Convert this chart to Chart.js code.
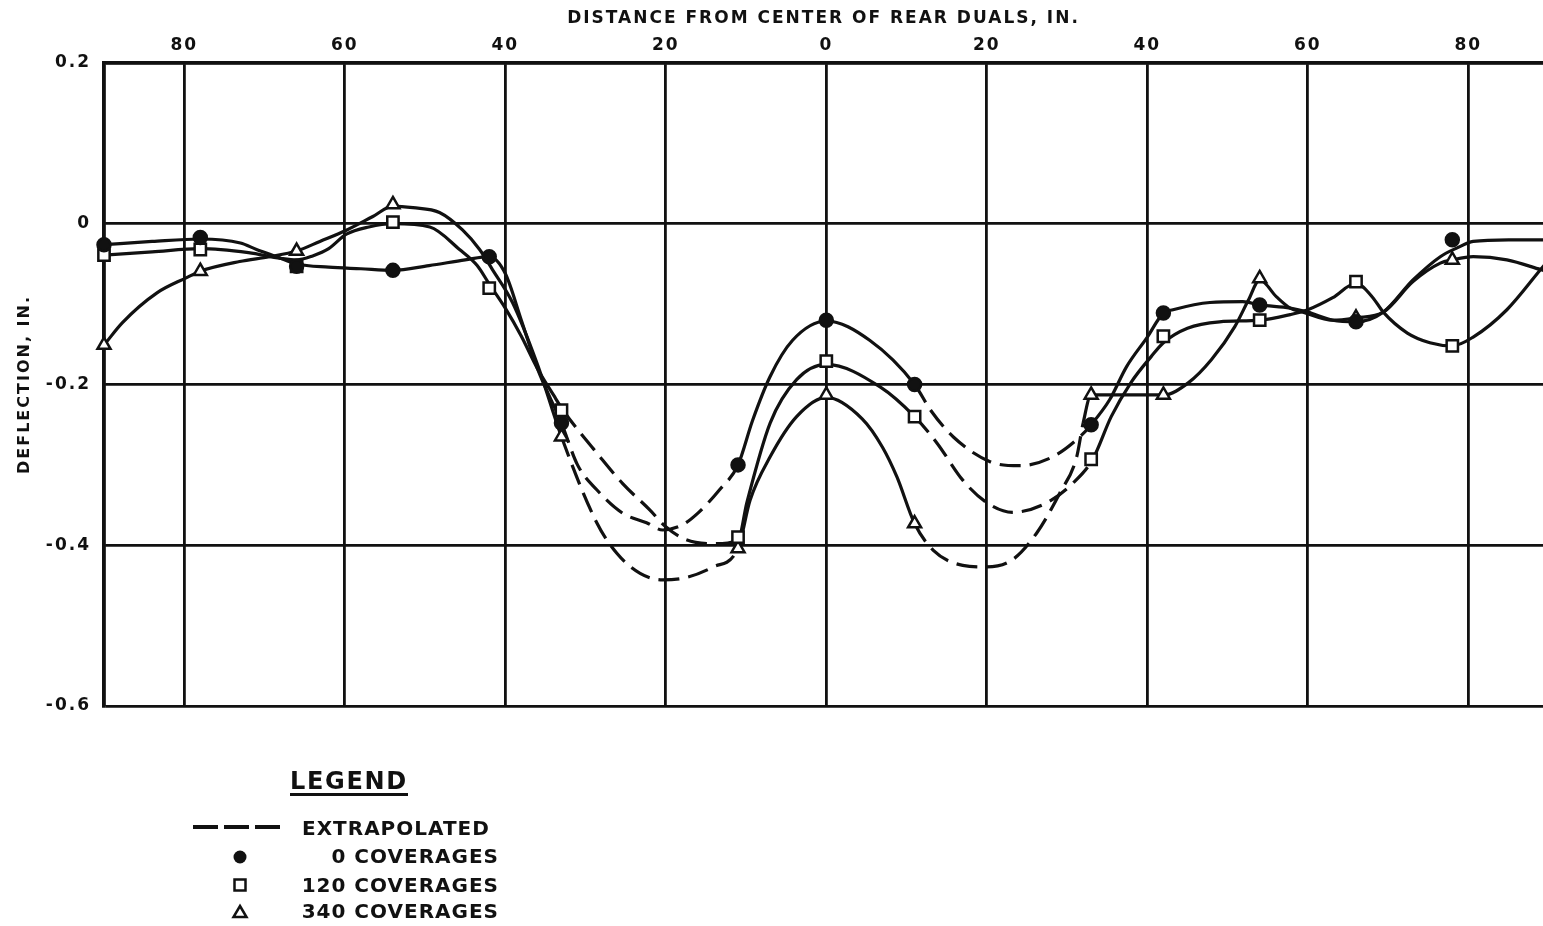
<!DOCTYPE html>
<html>
<head>
<meta charset="utf-8">
<script src="https://cdn.jsdelivr.net/npm/chart.js@4"></script>
<style>
  html, body { margin: 0; padding: 0; background: #fff; }
  #wrap { position: relative; width: 1543px; height: 926px; overflow: hidden; }
  #deflectionChart { position: absolute; left: 0; top: 0; }
  .lg { position: absolute; font-family: 'DejaVu Sans', sans-serif; font-weight: bold; color: #111; white-space: pre; }
  .lg-title { font-size: 24px; line-height: 24px; letter-spacing: 1.7px; border-bottom: 3px solid #111; }
  .lg-row { font-size: 20px; line-height: 20px; letter-spacing: 1px; }
  .lg-right { width: 300px; text-align: right; }
</style>
</head>
<body>
<div id="wrap">
  <canvas id="deflectionChart" width="1543" height="926"></canvas>

  <!-- legend, laid out the way the drawing has it -->
  <div class="lg lg-title" style="left:290px; top:769px;">LEGEND</div>
  <svg class="lg" style="left:180px; top:815px;" width="120" height="110">
    <line x1="13" y1="12" x2="100" y2="12" stroke="#111" stroke-width="4" stroke-dasharray="25 6"/>
    <circle cx="60" cy="42" r="6.5" fill="#111"/>
    <rect x="54.5" y="64.5" width="11" height="11" fill="#fff" stroke="#111" stroke-width="2.5"/>
    <polygon points="60,91 66.5,102 53.5,102" fill="#fff" stroke="#111" stroke-width="2.5"/>
  </svg>
  <div class="lg lg-row" style="left:302px; top:818px;">EXTRAPOLATED</div>
  <div class="lg lg-row lg-right" style="left:199px; top:846px;">0 COVERAGES</div>
  <div class="lg lg-row lg-right" style="left:199px; top:875px;">120 COVERAGES</div>
  <div class="lg lg-row lg-right" style="left:199px; top:901px;">340 COVERAGES</div>
</div>

<script>
// measured points (distance from centre of rear duals, in.)
const markerX = [-90, -78, -66, -54, -42, -33, -11, 0, 11, 33, 42, 54, 66, 78];
const cov0   = [-0.026, -0.017, -0.053, -0.058, -0.041, -0.248, -0.300, -0.120, -0.200, -0.250, -0.111, -0.101, -0.122, -0.020];
const cov120 = [-0.039, -0.032, -0.053, 0.002, -0.080, -0.232, -0.390, -0.171, -0.240, -0.293, -0.140, -0.120, -0.072, -0.152];
const cov340 = [-0.151, -0.059, -0.034, 0.024, null, -0.265, -0.404, -0.213, -0.373, -0.213, -0.213, -0.068, -0.117, -0.045];

// faired curves
const curve0X = [-90, -84, -78, -73, -71, -68.5, -66, -62, -58, -54, -49.5, -45, -42, -40, -38, -36, -33, -31, -28.6, -25.4, -22.4, -20.4, -18, -16, -13.3, -11, -9.2, -7, -4.2, 0, 5.4, 11, 13, 15.8, 20.4, 24.1, 28.2, 31.6, 33, 35.3, 37.4, 40, 42, 43.2, 47.8, 51.9, 54, 57.8, 60, 63.1, 66, 69.4, 73.1, 76.5, 78.6, 80.6, 85, 90];
const curve0Y = [-0.026, -0.022, -0.019, -0.024, -0.032, -0.041, -0.050, -0.054, -0.056, -0.058, -0.052, -0.045, -0.041, -0.062, -0.120, -0.180, -0.248, -0.300, -0.331, -0.360, -0.372, -0.381, -0.375, -0.360, -0.331, -0.300, -0.245, -0.190, -0.145, -0.121, -0.145, -0.200, -0.232, -0.265, -0.296, -0.301, -0.290, -0.265, -0.250, -0.219, -0.178, -0.141, -0.111, -0.107, -0.098, -0.097, -0.101, -0.105, -0.110, -0.120, -0.122, -0.110, -0.070, -0.041, -0.030, -0.022, -0.020, -0.020];

const curve120X = [-90, -84, -78, -72, -68, -66, -64, -62, -59.8, -57, -54, -49.4, -45.7, -43.5, -42, -40, -38, -36, -34, -32.8, -28.2, -25.4, -22, -20, -17.5, -14, -11, -9.9, -7, -3.7, 0, 6.7, 11, 13.8, 17, 20, 23.2, 27.5, 30.7, 33.2, 35.5, 38, 40.5, 42, 45, 49, 54, 57.8, 60, 63.1, 66, 68.1, 69.4, 72.4, 75.2, 78, 80.6, 84.8, 89, 90];
const curve120Y = [-0.039, -0.035, -0.031, -0.036, -0.043, -0.045, -0.040, -0.031, -0.013, -0.004, 0.000, -0.004, -0.032, -0.052, -0.075, -0.105, -0.140, -0.180, -0.213, -0.232, -0.290, -0.323, -0.356, -0.377, -0.393, -0.398, -0.394, -0.347, -0.248, -0.194, -0.175, -0.203, -0.240, -0.273, -0.319, -0.347, -0.359, -0.347, -0.323, -0.293, -0.240, -0.197, -0.165, -0.148, -0.130, -0.122, -0.120, -0.113, -0.107, -0.092, -0.074, -0.092, -0.110, -0.136, -0.148, -0.152, -0.141, -0.107, -0.057, -0.045];

const curve340X = [-90, -87.7, -83.4, -79.7, -78, -73.1, -69.4, -66, -63.1, -59.8, -56.5, -54, -51.5, -48.2, -45.3, -43.2, -41.6, -39.1, -36, -33, -28.6, -26.1, -23.2, -20.4, -17.4, -14.1, -11, -9.5, -7, -3.7, 0, 4.5, 7, 8.8, 11, 13.3, 17, 20, 23.2, 26.2, 29.1, 31.2, 32, 33, 42, 45.1, 48, 50.9, 52.6, 54, 56.1, 57.8, 59.4, 63.1, 66, 69.4, 73.1, 76.5, 78, 80.6, 84.8, 89, 90];
const curve340Y = [-0.151, -0.123, -0.086, -0.067, -0.059, -0.047, -0.041, -0.034, -0.022, -0.008, 0.009, 0.022, 0.020, 0.014, -0.008, -0.032, -0.057, -0.098, -0.175, -0.265, -0.372, -0.410, -0.435, -0.443, -0.440, -0.427, -0.404, -0.344, -0.290, -0.240, -0.216, -0.243, -0.278, -0.315, -0.373, -0.406, -0.425, -0.427, -0.418, -0.385, -0.335, -0.290, -0.248, -0.213, -0.213, -0.198, -0.169, -0.128, -0.095, -0.070, -0.091, -0.105, -0.110, -0.120, -0.117, -0.110, -0.072, -0.049, -0.045, -0.041, -0.045, -0.057, -0.060];

// stretches drawn dashed (extrapolated)
const dashed0 = [[-33, -11], [11, 33]];
const dashed120 = [[-33, -11], [11, 33.2]];
const dashed340 = [[-33, -11], [11, 32]];

// axis ticks
const xTickValues = [-90, -80, -60, -40, -20, 0, 20, 40, 60, 80];
const xTickLabels = ['', '80', '60', '40', '20', '0', '20', '40', '60', '80'];
const yTickValues = [0.2, 0, -0.2, -0.4, -0.6];
const yTickLabels = ['0.2', '0', '-0.2', '-0.4', '-0.6'];

const ink = '#111';
const tickFont = { family: 'DejaVu Sans', size: 17, weight: 'bold' };
const titleFont = { family: 'DejaVu Sans', size: 17, weight: 'bold' };

const toPoints = (xs, ys) => xs.map((x, i) => ({ x: x, y: ys[i] }));

function dashFor(ranges) {
    return ctx => {
        const a = ctx.p0.parsed.x, b = ctx.p1.parsed.x;
        return ranges.some(r => a >= r[0] - 0.1 && b <= r[1] + 0.1) ? [21, 9] : undefined;
    };
}

function curve(xs, ys, ranges) {
    return {
        data: toPoints(xs, ys),
        borderColor: ink,
        borderWidth: 3.2,
        pointRadius: 0,
        cubicInterpolationMode: 'monotone',
        fill: false,
        segment: { borderDash: dashFor(ranges) }
    };
}

function markers(ys, style, radius, fill) {
    return {
        data: toPoints(markerX, ys),
        showLine: false,
        pointStyle: style,
        pointRadius: radius,
        pointBackgroundColor: fill,
        pointBorderColor: ink,
        pointBorderWidth: 2.5,
        clip: false
    };
}

// canvas text in the drawing is spaced out a little
const letterSpacing = {
    id: 'letterSpacing',
    beforeUpdate(chart) { chart.ctx.letterSpacing = '2px'; },
    beforeDraw(chart) { chart.ctx.letterSpacing = '2px'; }
};

// no label padding: the plot runs off the right edge of the sheet
function noPad(s) {
    s.paddingLeft = 0;
    s.paddingRight = 0;
    s.paddingTop = 0;
    s.paddingBottom = 0;
}

new Chart(document.getElementById('deflectionChart').getContext('2d'), {
    type: 'line',
    data: {
        datasets: [
            markers(cov0, 'circle', 6.5, ink),
            markers(cov120, 'rect', 8, '#fff'),
            markers(cov340, 'triangle', 7.5, '#fff'),
            curve(curve0X, curve0Y, dashed0),
            curve(curve120X, curve120Y, dashed120),
            curve(curve340X, curve340Y, dashed340)
        ]
    },
    options: {
        responsive: false,
        animation: false,
        devicePixelRatio: 1,
        layout: { autoPadding: false, padding: { left: 0, top: 0, right: 0, bottom: 220 } },
        scales: {
            x: {
                type: 'linear',
                position: 'top',
                min: -90,
                max: 89.3,
                afterBuildTicks: s => { s.ticks = xTickValues.map(v => ({ value: v })); },
                afterFit: s => { s.height = 63; noPad(s); },
                grid: { color: ink, lineWidth: 2.8, drawTicks: false },
                border: { color: ink, width: 3.2 },
                ticks: {
                    autoSkip: false,
                    maxRotation: 0,
                    padding: 7,
                    color: ink,
                    font: tickFont,
                    callback: (v, i) => xTickLabels[i]
                },
                title: {
                    display: true,
                    text: 'DISTANCE FROM CENTER OF REAR DUALS, IN.',
                    color: ink,
                    font: titleFont,
                    padding: { top: 8, bottom: 0 }
                }
            },
            y: {
                type: 'linear',
                min: -0.6,
                max: 0.2,
                afterBuildTicks: s => { s.ticks = yTickValues.map(v => ({ value: v })); },
                afterFit: s => { s.width = 104; noPad(s); },
                grid: { color: ink, lineWidth: 2.8, drawTicks: false },
                border: { color: ink, width: 3.2 },
                ticks: {
                    padding: 13,
                    color: ink,
                    font: tickFont,
                    callback: (v, i) => yTickLabels[i]
                },
                title: {
                    display: true,
                    text: 'DEFLECTION, IN.',
                    color: ink,
                    font: { family: 'DejaVu Sans', size: 16, weight: 'bold' },
                    padding: { top: 15, bottom: 0 }
                }
            }
        },
        plugins: {
            legend: { display: false },
            tooltip: { enabled: false }
        }
    },
    plugins: [letterSpacing]
});
</script>
</body>
</html>
